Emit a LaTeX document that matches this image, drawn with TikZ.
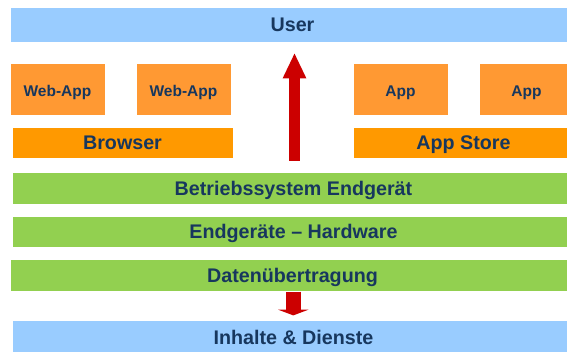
\documentclass[tikz,border=0pt]{standalone}
\usepackage{fontspec}
\setmainfont{Liberation Sans}
\usetikzlibrary{arrows.meta}
\definecolor{ublue}{HTML}{99CCFF}
\definecolor{lorange}{HTML}{FF9933}
\definecolor{dorange}{HTML}{FF9900}
\definecolor{lgreen}{HTML}{92D050}
\definecolor{navy}{HTML}{17375E}
\definecolor{arrred}{HTML}{CC0000}
\begin{document}
\begin{tikzpicture}[x=1pt,y=-1pt,
  box/.style={rectangle, inner sep=0pt, draw=white, line width=0.6pt, text=navy,
    font=\bfseries\fontsize{19.7}{23}\selectfont, text height=14.6pt, text depth=0pt},
  bluebox/.style={box, fill=ublue},
  greenbox/.style={box, fill=lgreen},
  barbox/.style={box, fill=dorange},
  appbox/.style={box, fill=lorange, minimum width=95pt, minimum height=52pt,
    font=\bfseries\fontsize{15.5}{18}\selectfont, text height=14.6pt},
  redarrow/.style={draw=arrred, line cap=butt}
]
\useasboundingbox (0,0) rectangle (567,352);
\fill[white] (0,0) rectangle (567,352);

\node[bluebox, minimum width=565pt, minimum height=35pt] (user) at (292.5,24.5) {User};

\node[appbox] (web1) at (57.5,89) {Web-App};
\node[appbox] (web2) at (183.5,89) {Web-App};
\node[appbox] (app1) at (400.5,89) {App};
\node[appbox] (app2) at (526.5,89) {App};

\node[barbox, minimum width=221pt, minimum height=31pt] (browser) at (122.5,142.5) {Browser};
\node[barbox, minimum width=221pt, minimum height=31pt] (store) at (463.5,142.5) {App Store};

\node[greenbox, minimum width=563pt, minimum height=32pt] (os) at (293.5,188) {Betriebssystem Endgerät};
\node[greenbox, minimum width=563pt, minimum height=31pt] (hw) at (293.5,231.5) {Endgeräte – Hardware};
\node[greenbox, minimum width=565pt, minimum height=32pt] (data) at (292.5,275) {Datenübertragung};

\node[bluebox, minimum width=563pt, minimum height=34pt] (content) at (293.5,337) {Inhalte \& Dienste};

\coordinate (upfoot) at (294.5,160.7);
\coordinate (uptip) at ([yshift=-10.5pt]user.south -| upfoot);
\draw[redarrow, line width=10.7pt, -{Triangle[width=21.7pt,length=25.6pt]}] (upfoot) -- (uptip);

\coordinate (downtop) at ([yshift=-0.3pt]data.south -| 293.3,0);
\coordinate (downtip) at ([yshift=4.3pt]content.north -| downtop);
\draw[redarrow, line width=14.7pt, -{Triangle[width=30pt,length=5.7pt]}] (downtop) -- (downtip);
\end{tikzpicture}
\end{document}
